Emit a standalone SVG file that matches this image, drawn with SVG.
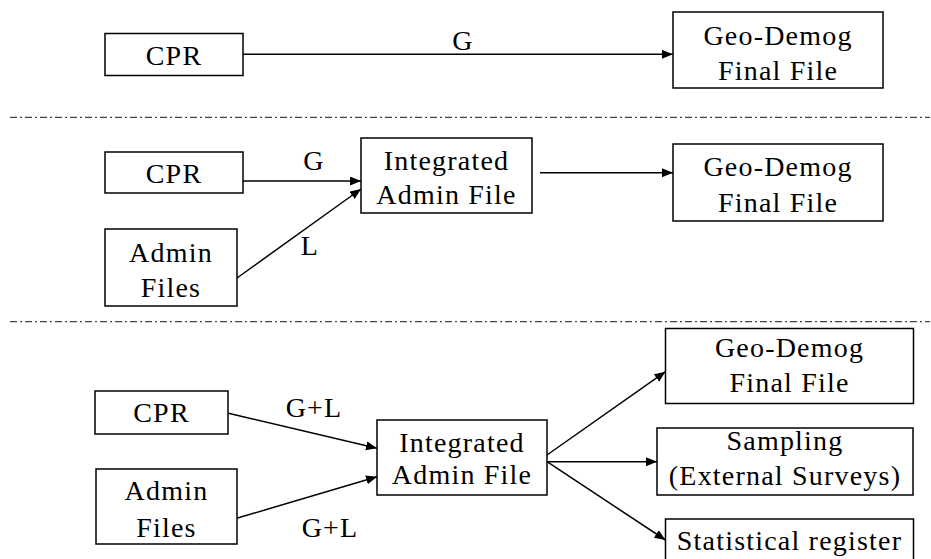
<svg xmlns="http://www.w3.org/2000/svg" width="931" height="559" viewBox="0 0 931 559">
<defs>
<style>
.box{fill:#fff;stroke:#000;stroke-width:1.5}
.t{font-family:"Liberation Serif","Times New Roman",serif;font-size:28px;letter-spacing:1.2px;fill:#000;text-anchor:middle}
.c{stroke:#000;stroke-width:1.5;fill:none;marker-end:url(#ah)}
.sep{stroke:#444;stroke-width:1.2;stroke-dasharray:7 3 2 3;fill:none}
</style>
<marker id="ah" markerUnits="userSpaceOnUse" markerWidth="12" markerHeight="10" refX="11" refY="4.5" orient="auto">
<path d="M0,0 L11,4.5 L0,9 z" fill="#000"/>
</marker>
</defs>
<rect width="931" height="559" fill="#fff"/>
<g id="separators">
<line class="sep" x1="10" y1="117.3" x2="930" y2="117.3"/>
<line class="sep" x1="10" y1="321.7" x2="930" y2="321.7"/>
</g>
<g id="connectors">
<line class="c" x1="243" y1="54.3" x2="673" y2="54.3"/>
<line class="c" x1="243" y1="181" x2="361" y2="181"/>
<line class="c" x1="237" y1="278" x2="361" y2="189"/>
<line class="c" x1="540" y1="172.7" x2="673" y2="172.7"/>
<line class="c" x1="228.3" y1="413.3" x2="377" y2="448.3"/>
<line class="c" x1="236.7" y1="518.3" x2="377" y2="476.7"/>
<line class="c" x1="547" y1="455" x2="665.5" y2="371.7"/>
<line class="c" x1="547" y1="461.7" x2="657" y2="461.7"/>
<line class="c" x1="547" y1="461.7" x2="665.5" y2="540"/>
<text class="t" x="463" y="50">G</text>
<text class="t" x="314" y="170">G</text>
<text class="t" x="310" y="255">L</text>
<text class="t" x="314" y="416.7">G+L</text>
<text class="t" x="330" y="536.7">G+L</text>
</g>
<g id="cpr1"><rect class="box" x="105" y="33.5" width="138" height="42"/><text class="t" x="174" y="65">CPR</text></g>
<g id="geo1"><rect class="box" x="673" y="12" width="210" height="76"/><text class="t" x="778" y="45">Geo-Demog</text><text class="t" x="778" y="80">Final File</text></g>
<g id="cpr2"><rect class="box" x="105" y="152" width="138" height="41"/><text class="t" x="174" y="182.7">CPR</text></g>
<g id="admin2"><rect class="box" x="105" y="229" width="132" height="77"/><text class="t" x="171" y="261.7">Admin</text><text class="t" x="171" y="296.7">Files</text></g>
<g id="integrated2"><rect class="box" x="361" y="138" width="171" height="75"/><text class="t" x="446.5" y="170">Integrated</text><text class="t" x="446.5" y="204">Admin File</text></g>
<g id="geo2"><rect class="box" x="673" y="144" width="210" height="77"/><text class="t" x="778" y="176">Geo-Demog</text><text class="t" x="778" y="211.7">Final File</text></g>
<g id="cpr3"><rect class="box" x="95" y="391" width="133" height="43"/><text class="t" x="161.5" y="421.7">CPR</text></g>
<g id="admin3"><rect class="box" x="96" y="469" width="141" height="75"/><text class="t" x="166.5" y="500">Admin</text><text class="t" x="166.5" y="537">Files</text></g>
<g id="integrated3"><rect class="box" x="377" y="420" width="170" height="75"/><text class="t" x="462" y="451.7">Integrated</text><text class="t" x="462" y="484">Admin File</text></g>
<g id="geo3"><rect class="box" x="665.5" y="328.5" width="248" height="75"/><text class="t" x="789.5" y="356.7">Geo-Demog</text><text class="t" x="789.5" y="392">Final File</text></g>
<g id="sampling"><rect class="box" x="657" y="428" width="256" height="67"/><text class="t" x="785" y="450">Sampling</text><text class="t" x="785" y="485">(External Surveys)</text></g>
<g id="statreg"><rect class="box" x="665.5" y="519" width="248" height="50"/><text class="t" x="789.5" y="550">Statistical register</text></g>
</svg>
